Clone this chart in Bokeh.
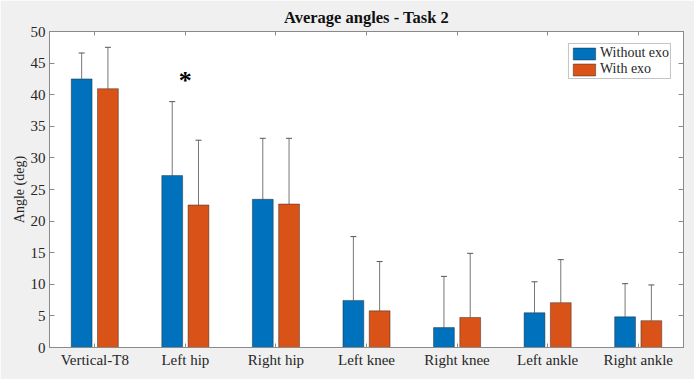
from bokeh.plotting import figure
from bokeh.models import (ColumnDataSource, Range1d, FixedTicker, Whisker,
                          TeeHead, Legend, LegendItem, LinearAxis, Label)
from bokeh.transform import dodge
from bokeh.embed import file_html
from bokeh.resources import INLINE

categories = ["Vertical-T8", "Left hip", "Right hip", "Left knee", "Right knee", "Left ankle", "Right ankle"]
without_exo = [42.5, 27.2, 23.45, 7.45, 3.15, 5.5, 4.85]
with_exo = [40.95, 22.55, 22.7, 5.8, 4.75, 7.1, 4.25]
without_exo_sd = [4.1, 11.7, 9.65, 10.1, 8.1, 4.9, 5.25]
with_exo_sd = [6.55, 10.25, 10.4, 7.8, 10.15, 6.8, 5.65]
y_ticks = [0, 5, 10, 15, 20, 25, 30, 35, 40, 45, 50]
title_text = "Average angles - Task 2"
y_label = "Angle (deg)"
series_names = ["Without exo", "With exo"]
star_category = "Left hip"
star_value = 42.6

FONT = "Liberation Serif"
BLUE = "#0072BD"
ORANGE = "#D95319"
AXC = "#8a8a8a"

pos = list(range(1, len(categories) + 1))
src = ColumnDataSource(dict(
    pos=pos,
    a=without_exo, b=with_exo,
    a_up=[m + s for m, s in zip(without_exo, without_exo_sd)],
    b_up=[m + s for m, s in zip(with_exo, with_exo_sd)],
))

p = figure(width=694, height=379, output_backend="svg", toolbar_location=None,
           x_range=Range1d(0.5, len(categories) + 0.5),
           y_range=Range1d(0, 50),
           min_border_left=49, min_border_right=11, min_border_bottom=32, min_border_top=8)

p.background_fill_color = "white"
p.border_fill_color = "#F0F0F0"
p.outline_line_color = AXC
p.xgrid.visible = False
p.ygrid.visible = False

p.title.text = title_text
p.title.align = "center"
p.title.text_font = FONT
p.title.text_font_size = "16.5px"
p.title.text_font_style = "bold"
p.title.text_color = "#111111"
p.title.standoff = 10

off = 0.145
w = 0.23
r1 = p.vbar(x=dodge("pos", -off), top="a", width=w, source=src,
            fill_color=BLUE, line_color="#1a1a1a", line_width=0.6, line_alpha=0.7)
r2 = p.vbar(x=dodge("pos", off), top="b", width=w, source=src,
            fill_color=ORANGE, line_color="#1a1a1a", line_width=0.6, line_alpha=0.7)

for col, up, sh in (("a", "a_up", -off), ("b", "b_up", off)):
    wk = Whisker(base=dodge("pos", sh), upper=up, lower=col, source=src,
                 dimension="height", line_color="#777777", line_width=1,
                 upper_head=TeeHead(size=6, line_color="#555555", line_width=1),
                 lower_head=None)
    p.add_layout(wk)

ax = p.xaxis[0]
ax.ticker = FixedTicker(ticks=pos)
ax.major_label_overrides = {k: c for k, c in zip(pos, categories)}
ax.minor_tick_line_color = None
ax.major_label_text_font = FONT
ax.major_label_text_font_size = "15px"
ax.major_label_text_color = "#262626"
ax.axis_line_color = AXC
ax.major_tick_in = 4
ax.major_tick_out = 0
ax.major_tick_line_color = AXC
ax.major_label_standoff = 4

ay = p.yaxis[0]
ay.ticker = FixedTicker(ticks=y_ticks)
ay.major_label_text_font = FONT
ay.major_label_text_font_size = "15px"
ay.major_label_text_color = "#262626"
ay.axis_line_color = AXC
ay.major_tick_in = 5
ay.major_tick_out = 0
ay.minor_tick_line_color = None
ay.major_tick_line_color = AXC
ay.major_label_standoff = 4
ay.axis_label = y_label
ay.axis_label_text_font = FONT
ay.axis_label_text_font_size = "14px"
ay.axis_label_text_font_style = "normal"
ay.axis_label_text_color = "#262626"
ay.axis_label_standoff = 1

# right and top box ticks (no labels)
ra = LinearAxis(ticker=FixedTicker(ticks=y_ticks),
                major_label_overrides={t: "" for t in y_ticks},
                major_tick_in=5, major_tick_out=0, minor_tick_line_color=None,
                axis_line_color=AXC, major_tick_line_color=AXC,
                major_label_standoff=0)
p.add_layout(ra, "right")
ta = LinearAxis(ticker=FixedTicker(ticks=pos),
                major_label_overrides={t: "" for t in pos},
                major_tick_in=4, major_tick_out=0, minor_tick_line_color=None,
                axis_line_color=AXC, major_tick_line_color=AXC,
                major_label_standoff=0)
p.add_layout(ta, "above")

star = Label(x=pos[categories.index(star_category)], y=star_value, text="*",
             text_font=FONT, text_font_size="26px", text_font_style="bold",
             text_align="center", text_baseline="middle", text_color="black", y_offset=-2)
p.add_layout(star)

legend = Legend(items=[LegendItem(label=series_names[0], renderers=[r1]),
                       LegendItem(label=series_names[1], renderers=[r2])],
                location="top_right", margin=12, padding=1, spacing=0,
                label_standoff=2, glyph_width=28, glyph_height=15, label_height=15,
                label_text_font=FONT, label_text_font_size="14px", label_text_color="#262626",
                border_line_color=AXC, border_line_width=1,
                background_fill_color="white", background_fill_alpha=1)
p.add_layout(legend)

open("out.html", "w").write(file_html(p, INLINE))
